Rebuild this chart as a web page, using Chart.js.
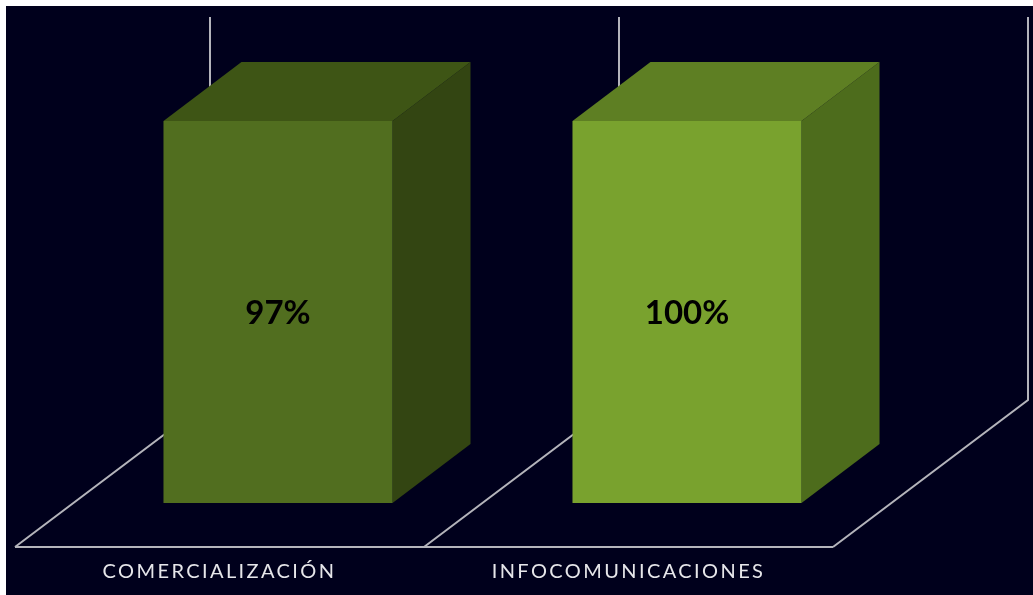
<!DOCTYPE html>
<html>
<head>
<meta charset="utf-8">
<script src="https://cdn.jsdelivr.net/npm/chart.js@4"></script>
<style>
html,body{margin:0;padding:0;background:#fff;overflow:hidden;width:1033px;height:595px}
#wrap{position:absolute;left:6px;top:6px;width:1027px;height:589px;background:#00001c}
canvas{display:block}
</style>
</head>
<body>
<div id="wrap"><canvas id="c" width="1027" height="589"></canvas></div>
<script>
const categories = ['COMERCIALIZACIÓN', 'INFOCOMUNICACIONES'];
const values = [97, 100];
const axisMax = 97;
const frontColors = ['#516e1f', '#79a22e'];
const topColors = ['#3e5515', '#5e7f23'];
const sideColors = ['#334512', '#4d6c1c'];
const wallColor = '#b4b4bb';
const floorDepth = { x: 195, y: 147 };
const barDepth = { x: 78, y: 59 };
const wallTop = 11;
const labelFont = 'Lato, sans-serif';

const shift = { x: (floorDepth.x - barDepth.x) / 2, y: (floorDepth.y - barDepth.y) / 2 };

const box3d = {
  id: 'box3d',
  beforeDraw(chart) {
    chart.ctx.letterSpacing = '2.4px';
  },
  beforeDatasetsDraw(chart) {
    const { ctx, scales: { x } } = chart;
    const base = chart.chartArea.bottom;
    const step = (x.right - x.left) / categories.length;
    ctx.save();
    ctx.strokeStyle = wallColor;
    ctx.lineWidth = 2;
    ctx.beginPath();
    ctx.moveTo(x.left, base);
    ctx.lineTo(x.right, base);
    for (let i = 0; i <= categories.length; i++) {
      const gx = x.left + step * i;
      ctx.moveTo(gx, base);
      ctx.lineTo(gx + floorDepth.x, base - floorDepth.y);
      ctx.lineTo(gx + floorDepth.x, wallTop);
    }
    ctx.stroke();
    ctx.restore();
  },
  beforeDatasetDraw(chart, args) {
    const { ctx, chartArea } = chart;
    const meta = args.meta;
    ctx.save();
    ctx.translate(shift.x, -shift.y);
    meta.data.forEach((bar, i) => {
      const l = bar.x - bar.width / 2;
      const r = bar.x + bar.width / 2;
      const t = Math.max(bar.y, chartArea.top);
      const b = bar.base;
      ctx.fillStyle = sideColors[i];
      ctx.beginPath();
      ctx.moveTo(r, t);
      ctx.lineTo(r + barDepth.x, t - barDepth.y);
      ctx.lineTo(r + barDepth.x, b - barDepth.y);
      ctx.lineTo(r, b);
      ctx.closePath();
      ctx.fill();
      ctx.fillStyle = topColors[i];
      ctx.beginPath();
      ctx.moveTo(l, t);
      ctx.lineTo(l + barDepth.x, t - barDepth.y);
      ctx.lineTo(r + barDepth.x, t - barDepth.y);
      ctx.lineTo(r, t);
      ctx.closePath();
      ctx.fill();
    });
  },
  afterDatasetDraw(chart, args) {
    const { ctx, chartArea } = chart;
    ctx.restore();
    ctx.save();
    ctx.letterSpacing = '0px';
    ctx.font = 'bold 33px ' + labelFont;
    ctx.fillStyle = '#000000';
    ctx.textAlign = 'center';
    ctx.textBaseline = 'middle';
    args.meta.data.forEach((bar, i) => {
      const t = Math.max(bar.y, chartArea.top);
      ctx.fillText(values[i] + '%', bar.x + shift.x, (t + bar.base) / 2 - shift.y + 1);
    });
    ctx.restore();
  }
};

new Chart(document.getElementById('c'), {
  type: 'bar',
  data: {
    labels: categories,
    datasets: [{
      data: values,
      backgroundColor: frontColors,
      borderWidth: 0,
      clip: 0,
      categoryPercentage: 0.56,
      barPercentage: 1
    }]
  },
  options: {
    responsive: false,
    animation: false,
    events: [],
    layout: { padding: { left: 9, right: 200, top: 159, bottom: 0 } },
    plugins: { legend: { display: false }, tooltip: { enabled: false }, title: { display: false } },
    scales: {
      x: {
        grid: { display: false },
        border: { display: false },
        afterFit(s) { s.height = 48; },
        ticks: { color: '#e6e6ea', font: { family: labelFont, size: 20 }, padding: 5, autoSkip: false, maxRotation: 0, minRotation: 0 }
      },
      y: { display: false, min: 0, max: axisMax }
    }
  },
  plugins: [box3d]
});
</script>
</body>
</html>
